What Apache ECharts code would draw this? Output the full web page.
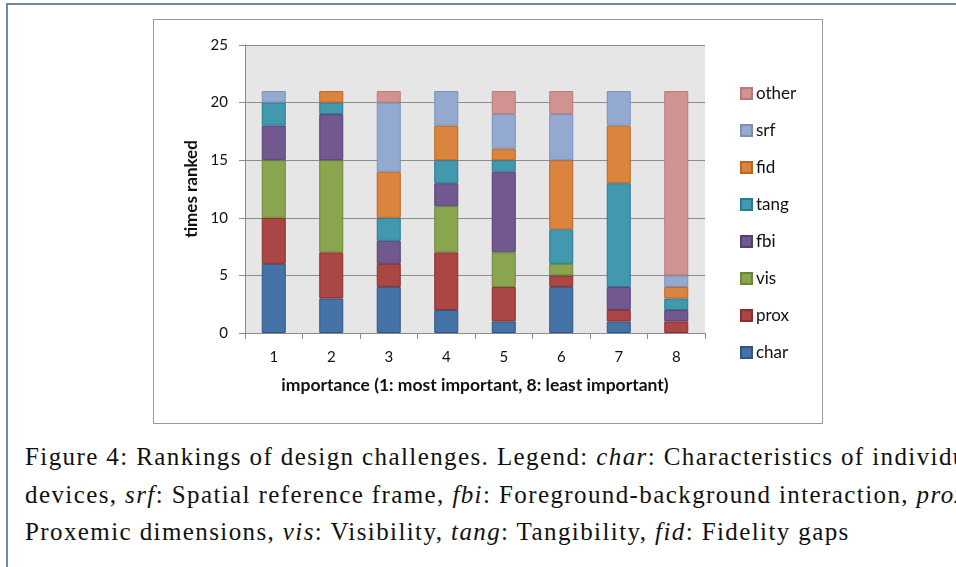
<!DOCTYPE html>
<html>
<head>
<meta charset="utf-8">
<script src="https://cdn.jsdelivr.net/npm/echarts@6/dist/echarts.min.js"></script>
<style>
  html, body { margin: 0; padding: 0; background: #fff; width: 956px; height: 567px; overflow: hidden; }
  .page { position: absolute; left: 6px; top: 3px; width: 970px; height: 600px; border-left: 2px solid #6f89aa; border-top: 2px solid #6f89aa; }
  .chart-box { position: absolute; left: 153px; top: 19px; width: 668px; height: 403px; border: 1px solid #999; background: #fff; }
  #chart { width: 668px; height: 403px; }
  .caption { position: absolute; left: 25px; top: 438px; width: 1200px; font-family: "Liberation Serif", "DejaVu Serif", serif; font-size: 25px; letter-spacing: 1.4px; line-height: 37.5px; color: #111; white-space: nowrap; }
  .caption i { font-family: "Liberation Serif", "DejaVu Serif", serif; font-style: italic; }
</style>
</head>
<body>
<div class="page"></div>
<div class="chart-box"><div id="chart"></div></div>
<div class="caption">
  <div>Figure 4: Rankings of design challenges. Legend: <i>char</i>: Characteristics of individual</div>
  <div>devices, <i>srf</i>: Spatial reference frame, <i>fbi</i>: Foreground-background interaction, <i>prox</i>:</div>
  <div>Proxemic dimensions, <i>vis</i>: Visibility, <i>tang</i>: Tangibility, <i>fid</i>: Fidelity gaps</div>
</div>
<script>
const categories = ['1', '2', '3', '4', '5', '6', '7', '8']
const charVals  = [6, 3, 4, 2, 1, 4, 1, 0]
const proxVals  = [4, 4, 2, 5, 3, 1, 1, 1]
const visVals   = [5, 8, 0, 4, 3, 1, 0, 0]
const fbiVals   = [3, 4, 2, 2, 7, 0, 2, 1]
const tangVals  = [2, 1, 2, 2, 1, 3, 9, 1]
const fidVals   = [0, 1, 4, 3, 1, 6, 5, 1]
const srfVals   = [1, 0, 6, 3, 3, 4, 3, 1]
const otherVals = [0, 0, 1, 0, 2, 2, 0, 16]
const yTicks = [0, 5, 10, 15, 20, 25]

const seriesDefs = [
  { name: 'char',  data: charVals,  color: '#4572a7', border: '#2f5585' },
  { name: 'prox',  data: proxVals,  color: '#aa4643', border: '#8a2f2d' },
  { name: 'vis',   data: visVals,   color: '#89a54e', border: '#6c8638' },
  { name: 'fbi',   data: fbiVals,   color: '#71588f', border: '#553f72' },
  { name: 'tang',  data: tangVals,  color: '#4198af', border: '#2a7a90' },
  { name: 'fid',   data: fidVals,   color: '#db843d', border: '#b96524' },
  { name: 'srf',   data: srfVals,   color: '#93a9cf', border: '#7a90b8' },
  { name: 'other', data: otherVals, color: '#d19392', border: '#b87a79' },
]

const font = 'Lato, "Open Sans", sans-serif'
const gridColor = '#8c8c8c'

const chart = echarts.init(document.getElementById('chart'))
chart.setOption({
  animation: false,
  textStyle: { fontFamily: font },
  grid: { left: 91, top: 25, width: 460, height: 288, backgroundColor: '#e6e6e6', show: true, borderWidth: 0 },
  legend: {
    orient: 'vertical',
    left: 581,
    top: 60,
    itemWidth: 11,
    itemHeight: 11,
    itemGap: 20,
    data: seriesDefs.map(s => s.name).reverse(),
    textStyle: { fontFamily: font, fontSize: 17, color: '#111', padding: [0, 0, 0, -1] },
    icon: 'rect',
  },
  xAxis: {
    type: 'category',
    data: categories,
    name: 'importance (1: most important, 8: least important)',
    nameLocation: 'middle',
    nameGap: 43,
    nameTextStyle: { fontFamily: font, fontSize: 17.5, fontWeight: 'bold', color: '#111' },
    axisLine: { lineStyle: { color: gridColor, width: 1 } },
    axisTick: { show: true, length: 6, lineStyle: { color: gridColor } },
    axisLabel: { fontFamily: font, fontSize: 15, color: '#111', margin: 17 },
  },
  yAxis: {
    type: 'value',
    min: 0,
    max: 25,
    interval: 5,
    name: 'times ranked',
    nameLocation: 'middle',
    nameGap: 43,
    nameTextStyle: { fontFamily: font, fontSize: 17, fontWeight: 'bold', color: '#111' },
    axisLine: { show: true, lineStyle: { color: gridColor, width: 1 } },
    axisTick: { show: true, length: 6, lineStyle: { color: gridColor } },
    axisLabel: { fontFamily: font, fontSize: 15, color: '#111', margin: 17,
      formatter: v => yTicks.includes(v) ? String(v) : '' },
    splitLine: { lineStyle: { color: gridColor, width: 1 } },
  },
  series: seriesDefs.map(s => ({
    name: s.name,
    type: 'bar',
    stack: 'total',
    barWidth: 24,
    // zero-height segments are left out so their borders do not show
    data: s.data.map(v => v === 0 ? '-' : v),
    itemStyle: { color: s.color, borderColor: s.border, borderWidth: 1 },
  })),
})
</script>
</body>
</html>
